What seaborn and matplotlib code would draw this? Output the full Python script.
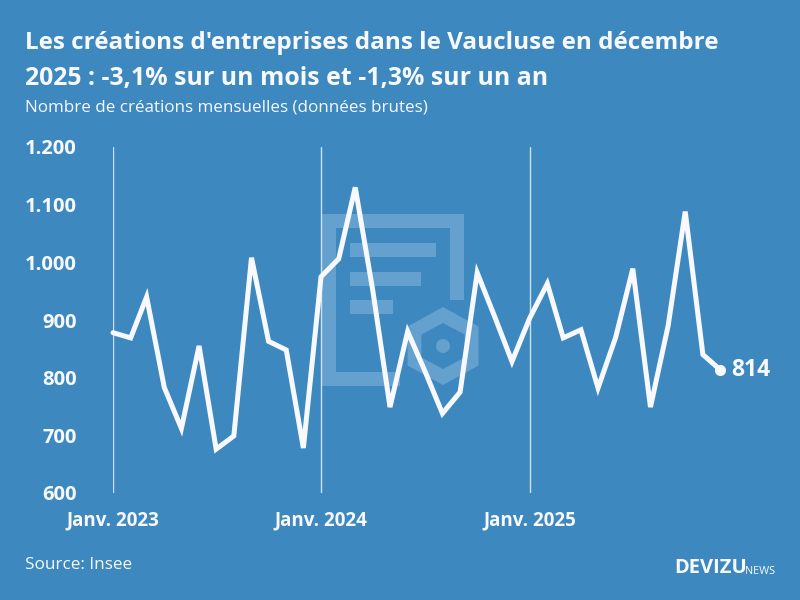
import numpy as np
import pandas as pd
import matplotlib
matplotlib.use("Agg")
import matplotlib.pyplot as plt
import matplotlib.dates as mdates
from matplotlib.patches import Rectangle, Polygon, Circle
import seaborn as sns

values_2023 = [878, 869, 940, 783, 712, 855, 676, 699, 1008, 863, 848, 678]
values_2024 = [975, 1006, 1130, 950, 749, 880, 812, 738, 775, 982, 905, 828]
values_2025 = [903, 963, 869, 883, 782, 870, 989, 749, 890, 1088, 840, 814]
y_ticks = [600, 700, 800, 900, 1000, 1100, 1200]
y_labels = ["600", "700", "800", "900", "1.000", "1.100", "1.200"]
x_ticks = ["2023-01-01", "2024-01-01", "2025-01-01"]
x_labels = ["Janv. 2023", "Janv. 2024", "Janv. 2025"]

BG = "#3d88bf"
ICON = "#64a1ce"
WHITE = "#f8f9ff"

df = pd.DataFrame({
    "mois": pd.date_range("2023-01-01", periods=36, freq="MS"),
    "creations": values_2023 + values_2024 + values_2025,
})

sns.set_style("white")
plt.rcParams["font.family"] = ["Open Sans", "DejaVu Sans"]

fig = plt.figure(figsize=(8, 6), dpi=100, facecolor=BG)

# background layer in pixel coordinates: watermark icon and texts
bg = fig.add_axes([0, 0, 1, 1], zorder=0)
bg.set_xlim(0, 800)
bg.set_ylim(600, 0)
bg.axis("off")

for x, y, w, h in [(321, 214, 143, 14), (321, 214, 15, 172), (450, 214, 14, 86),
                   (321, 372, 79, 14), (350, 243, 86, 14), (350, 272, 71, 14),
                   (350, 300, 43, 14)]:
    bg.add_patch(Rectangle((x, y), w, h, color=ICON, lw=0))

# hexagon ring
angles = np.radians(np.arange(6) * 60 - 90)
outer = np.column_stack([443 + 41 * np.cos(angles), 346 + 39 * np.sin(angles)])
inner = np.column_stack([443 + 25 * np.cos(angles), 346 + 23 * np.sin(angles)])
for i in range(6):
    j = (i + 1) % 6
    bg.add_patch(Polygon([outer[i], outer[j], inner[j], inner[i]], color=ICON, lw=0))
bg.add_patch(Circle((443, 346), 7, color=ICON, lw=0))

bg.text(25, 43, "Les créations d'entreprises dans le Vaucluse en décembre", color=WHITE,
        fontsize=17.5, fontweight="bold", va="center")
bg.text(25, 78, "2025 : -3,1% sur un mois et -1,3% sur un an", color=WHITE,
        fontsize=17.9, fontweight="bold", va="center")
bg.text(25, 108, "Nombre de créations mensuelles (données brutes)", color=WHITE,
        fontsize=12.25, va="center")
bg.text(25, 565, "Source: Insee", color=WHITE, fontsize=12.3, va="center")
bg.text(674, 568, "DEVIZU", color=WHITE, fontsize=14.5, fontweight="bold", va="center")
bg.text(745, 572, "NEWS", color=WHITE, fontsize=7.8, va="center")

# main chart
ax = fig.add_axes([113 / 800, 1 - 493 / 600, 607 / 800, 346 / 600], zorder=1)
ax.patch.set_visible(False)
sns.lineplot(data=df, x="mois", y="creations", color=WHITE, linewidth=3.6, ax=ax,
             solid_joinstyle="miter", clip_on=False, errorbar=None)
ax.plot(df["mois"].iloc[-1], df["creations"].iloc[-1], "o", color=WHITE, ms=7, clip_on=False)
ax.annotate(str(df["creations"].iloc[-1]), (df["mois"].iloc[-1], df["creations"].iloc[-1]),
            xytext=(8, 0), textcoords="offset points", color=WHITE, fontsize=16.5,
            fontweight="bold", va="center", annotation_clip=False)

ax.set_xlim(df["mois"].iloc[0], df["mois"].iloc[-1])
ax.set_ylim(600, 1200)
ax.set_xticks(mdates.date2num(pd.to_datetime(x_ticks)))
ax.set_xticklabels(x_labels, fontsize=13.5, fontweight="bold", color=WHITE)
ax.set_yticks(y_ticks)
ax.set_yticklabels(y_labels, fontsize=14.5, fontweight="bold", color=WHITE)
ax.tick_params(axis="x", length=0, pad=12.5)
ax.tick_params(axis="y", length=0, pad=26)
ax.set_xlabel("")
ax.set_ylabel("")
ax.grid(axis="x", color="#cfe1ef", lw=1)
ax.grid(axis="y", visible=False)
ax.set_axisbelow(True)
sns.despine(ax=ax, left=True, bottom=True)

fig.savefig("out.png", dpi=100, facecolor=BG)
